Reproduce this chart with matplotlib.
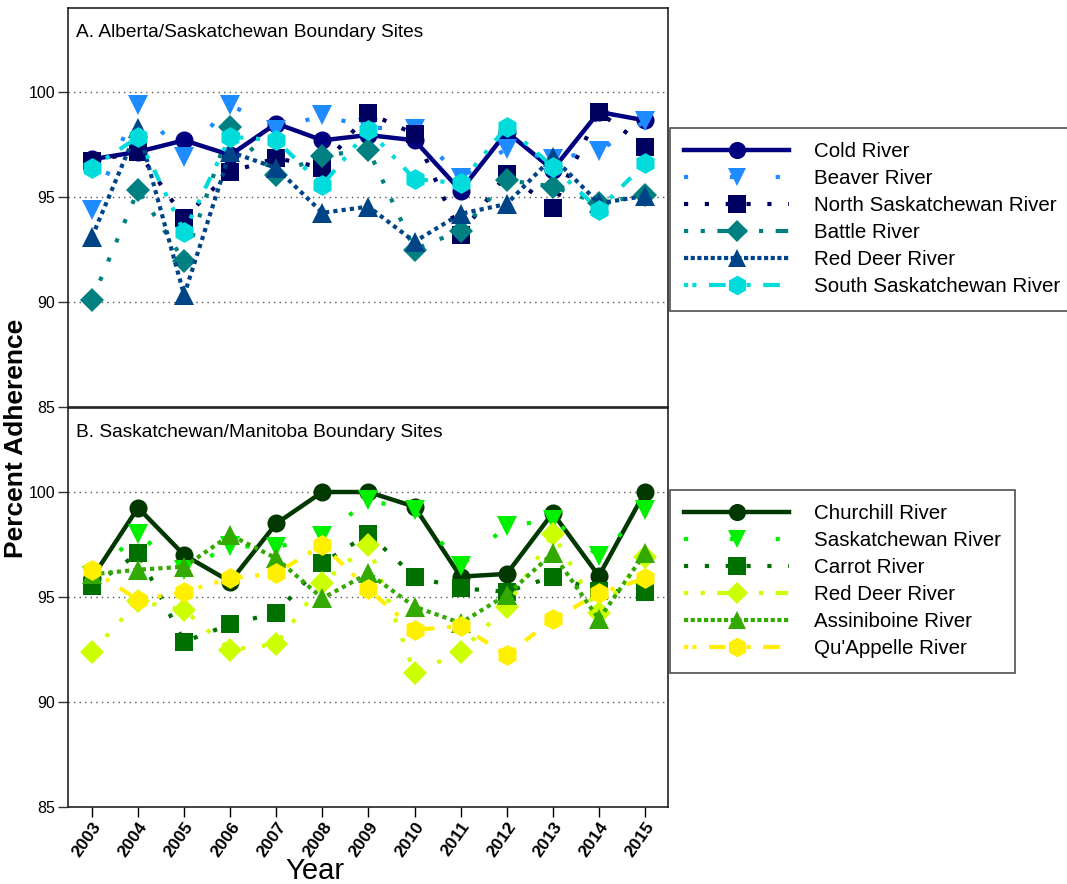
import matplotlib
matplotlib.use("Agg")
import matplotlib.pyplot as plt
from matplotlib.lines import Line2D

years = list(range(2003, 2016))

# Panel A: Alberta/Saskatchewan boundary sites
names_a = ["Cold River", "Beaver River", "North Saskatchewan River",
           "Battle River", "Red Deer River", "South Saskatchewan River"]
cold_river = [96.8, 97.15, 97.7, 97.0, 98.5, 97.7, 97.95, 97.7, 95.3, 98.1, 96.3, 99.05, 98.65]
beaver_river = [94.4, 99.4, 96.9, 99.4, 98.2, 98.9, 98.3, 98.25, 95.9, 97.3, 96.8, 97.2, 98.6]
north_sask_river = [96.7, 97.15, 94.0, 96.2, 96.85, 96.4, 99.0, 98.0, 93.2, 96.1, 94.5, 99.05, 97.4]
battle_river = [90.1, 95.33, 91.95, 98.35, 96.05, 96.97, 97.24, 92.5, 93.4, 95.8, 95.5, 94.7, 95.1]
red_deer_a = [93.1, 98.3, 90.33, 97.15, 96.38, 94.25, 94.54, 92.87, 94.2, 94.67, 96.9, 94.7, 95.05]
south_sask_river = [96.4, 97.85, 93.35, 97.87, 97.7, 95.57, 98.2, 95.85, 95.66, 98.35, 96.45, 94.4, 96.6]

# Panel B: Saskatchewan/Manitoba boundary sites
names_b = ["Churchill River", "Saskatchewan River", "Carrot River",
           "Red Deer River", "Assiniboine River", "Qu'Appelle River"]
churchill_river = [95.9, 99.25, 97.0, 95.73, 98.5, 100.0, 100.0, 99.3, 95.97, 96.1, 99.0, 96.0, 100.0]
saskatchewan_river = [96.0, 98.0, 96.3, 97.43, 97.37, 97.9, 99.6, 99.14, 96.48, 98.38, 98.67, 96.95, 99.14]
carrot_river = [95.5, 97.08, 92.87, 93.7, 94.25, 96.6, 98.0, 95.97, 95.41, 95.25, 95.97, 95.3, 95.25]
red_deer_b = [92.37, 94.8, 94.38, 92.48, 92.76, 95.68, 97.48, 91.37, 92.4, 94.54, 98.0, 94.25, 96.92]
assiniboine_river = [96.08, 96.3, 96.44, 97.95, 96.84, 94.94, 96.13, 94.54, 93.76, 95.1, 97.08, 93.94, 97.08]
quappelle_river = [96.3, 94.86, 95.25, 95.89, 96.13, 97.48, 95.37, 93.43, 93.62, 92.24, 93.94, 95.17, 95.89]

series_a = [cold_river, beaver_river, north_sask_river, battle_river, red_deer_a, south_sask_river]
series_b = [churchill_river, saskatchewan_river, carrot_river, red_deer_b, assiniboine_river, quappelle_river]

colors_a = ["#000080", "#1E8CFF", "#000060", "#008080", "#004488", "#00DCDC"]
colors_b = ["#003800", "#00F000", "#007000", "#CCFF00", "#33AA00", "#FFF000"]
markers = ["o", "v", "s", "D", "^", "h"]
msizes = [13, 14, 13, 12, 14, 15]
styles = ["-", (0, (1, 8)), (0, (1, 4)), (0, (1, 4)), (0, (1, 1)), (0, (1, 3, 1, 3, 3, 3))]
leg_styles = ["-", (0, (1, 10)), (0, (1, 4)), (0, (1, 3, 1, 3, 3, 3)), (0, (1, 0.6)),
              (0, (1, 1, 1, 3, 4, 3))]
lws = [3.2, 3, 3, 3, 3, 3]

fig = plt.figure(figsize=(10.67, 8.84), dpi=100)
L, W = 68 / 1067, 600 / 1067
axA = fig.add_axes([L, 1 - 407 / 884, W, 399 / 884])
axB = fig.add_axes([L, 1 - 807 / 884, W, 399 / 884], sharex=axA)

def draw(ax, series, colors, names, title):
    handles = []
    for i, (vals, c, n) in enumerate(zip(series, colors, names)):
        ax.plot(years, vals, linestyle=styles[i], color=c, lw=lws[i],
                marker=markers[i], markersize=msizes[i], markeredgewidth=0,
                zorder=3 + i)
        handles.append(Line2D([0], [0], linestyle=leg_styles[i], color=c, lw=lws[i],
                              marker=markers[i], markersize=msizes[i] * 0.95,
                              markeredgewidth=0, label=n))
    ax.set_ylim(85, 104)
    ax.set_xlim(2002.48, 2015.5)
    ax.set_yticks([85, 90, 95, 100])
    for yv in [90, 95, 100]:
        ax.axhline(yv, color="#555555", lw=1, linestyle=(0, (1, 3)), zorder=1)
    ax.tick_params(axis="y", direction="out", length=7, width=1, labelsize=11.5,
                   colors="#333333", labelcolor="black", pad=2)
    for s in ax.spines.values():
        s.set_color("#222222")
        s.set_linewidth(1.2)
    ax.text(0.013, 0.96, title, transform=ax.transAxes, fontsize=13.8,
            ha="left", va="top", family="Liberation Sans")
    for lab in ax.get_yticklabels():
        lab.set_family("Liberation Sans")
    return handles

hA = draw(axA, series_a, colors_a, names_a, "A. Alberta/Saskatchewan Boundary Sites")
hB = draw(axB, series_b, colors_b, names_b, "B. Saskatchewan/Manitoba Boundary Sites")

axA.tick_params(axis="x", bottom=False, labelbottom=False)
axB.set_xticks(years)
axB.set_xticklabels([str(y) for y in years], rotation=55, ha="right",
                    rotation_mode="anchor", fontsize=12.5, fontweight="bold",
                    family="Liberation Sans")
axB.tick_params(axis="x", direction="out", length=7, width=1, pad=2)

for h, y0 in [(hA, 128), (hB, 490)]:
    leg = fig.legend(handles=h, loc="upper left", bbox_to_anchor=(670 / 1067, 1 - y0 / 884),
                     borderaxespad=0, handlelength=5.1, labelspacing=0.39, frameon=True,
                     fancybox=False, edgecolor="#222222", borderpad=0.7, handletextpad=1.2,
                     prop={"family": "Liberation Sans", "size": 14.8})
    leg.get_frame().set_linewidth(1.2)

fig.text(16 / 1067, 1 - 438 / 884, "Percent Adherence", rotation=90, ha="center",
         va="center", fontsize=19, fontweight="bold", family="Liberation Sans")
fig.text(315 / 1067, 1 - 871 / 884, "Year", ha="center", va="center",
         fontsize=21, family="Liberation Sans")

fig.savefig("out.png", dpi=100)
